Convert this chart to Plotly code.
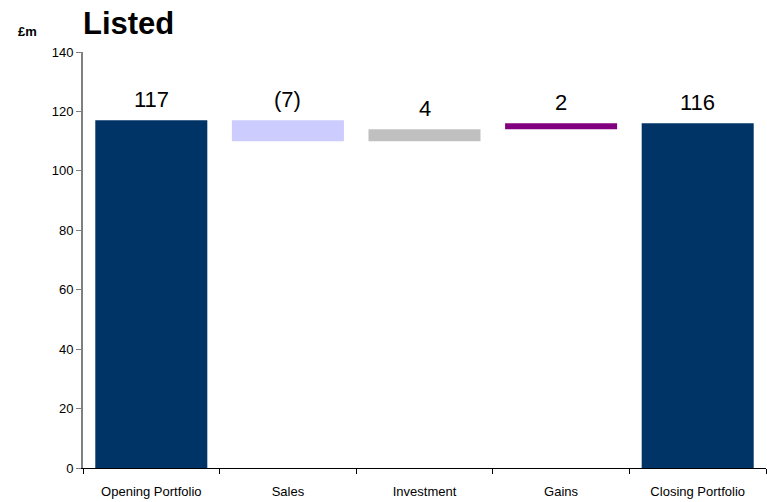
import plotly.graph_objects as go

categories = ["Opening Portfolio", "Sales", "Investment", "Gains", "Closing Portfolio"]
values = [117, -7, 4, 2, 116]
kinds = ["total", "relative", "relative", "relative", "total"]
colors = ["#003366", "#CCCCFF", "#C0C0C0", "#800080", "#003366"]

# Build floating-bar bases and heights for the waterfall
bases, heights, tops, running = [], [], [], 0
for v, k in zip(values, kinds):
    if k == "total":
        running = v
        bases.append(0)
        heights.append(v)
        tops.append(v)
    else:
        start = running
        running += v
        bases.append(min(start, running))
        heights.append(abs(v))
        tops.append(max(start, running))

labels = [f"({abs(v)})" if v < 0 else f"{v}" for v in values]

fig = go.Figure(go.Bar(
    x=categories, y=heights, base=bases,
    marker=dict(color=colors, line=dict(width=0)),
    hoverinfo="skip",
))

for c, t, lab in zip(categories, tops, labels):
    fig.add_annotation(x=c, y=t, text=lab, showarrow=False, yanchor="bottom",
                       yshift=6, font=dict(family="Arial", size=22, color="black"))

fig.add_annotation(xref="paper", yref="paper", x=0.0, y=1.0, xanchor="left",
                   yanchor="middle", xshift=-67, yshift=21, text="<b>£m</b>",
                   showarrow=False, font=dict(family="Arial", size=13, color="black"))
fig.add_annotation(xref="paper", yref="paper", x=0.0, y=1.0, xanchor="left",
                   yanchor="bottom", yshift=9, xshift=-2, text="<b>Listed</b>",
                   showarrow=False, font=dict(family="Arial", size=31, color="black"))

fig.update_layout(
    width=767, height=502,
    margin=dict(l=83, r=1, t=52, b=34),
    paper_bgcolor="white", plot_bgcolor="white",
    bargap=0.18, showlegend=False,
    font=dict(family="Arial", color="black"),
)
fig.update_yaxes(range=[0, 140], dtick=20, ticks="outside", ticklen=5,
                 tickcolor="#808080", showline=True, linecolor="#808080",
                 linewidth=2, showgrid=False, zeroline=False,
                 tickfont=dict(family="Arial", size=13, color="black"))
fig.update_xaxes(ticks="outside", tickson="boundaries", ticklen=5,
                 tickcolor="black", showline=True, linecolor="black",
                 linewidth=1, showgrid=False, ticklabelstandoff=11,
                 tickfont=dict(family="Arial", size=13, color="black"))

fig.write_html("out.html")
